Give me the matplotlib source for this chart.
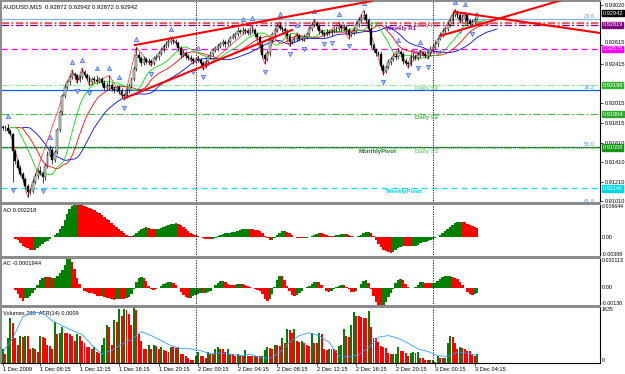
import numpy as np
import pandas as pd
import matplotlib
matplotlib.use("Agg")
import matplotlib.pyplot as plt
import matplotlib.transforms as mtrans

plt.rcParams['font.family'] = ['Liberation Sans', 'DejaVu Sans']

# ---- data (AUDUSD M15, prices in pips of 0.0001) ----
first_open = 9177
close_pips = [
    9176, 9176, 9173, 9170, 9152, 9142, 9135, 9129, 9124, 9116,
    9110, 9111, 9120, 9127, 9132, 9130, 9126, 9137, 9148, 9153,
    9143, 9151, 9174, 9192, 9209, 9218, 9223, 9228, 9232, 9230,
    9225, 9228, 9234, 9231, 9227, 9223, 9226, 9225, 9224, 9226,
    9222, 9217, 9219, 9220, 9216, 9215, 9218, 9214, 9210, 9209,
    9215, 9219, 9226, 9237, 9251, 9248, 9243, 9247, 9244, 9245,
    9243, 9248, 9249, 9253, 9256, 9260, 9262, 9264, 9266, 9264,
    9263, 9258, 9251, 9253, 9250, 9248, 9247, 9245, 9247, 9246,
    9243, 9240, 9244, 9249, 9252, 9256, 9258, 9260, 9262, 9264,
    9262, 9264, 9269, 9271, 9273, 9276, 9275, 9277, 9276, 9274,
    9276, 9277, 9273, 9270, 9261, 9251, 9247, 9253, 9266, 9273,
    9277, 9281, 9279, 9278, 9276, 9271, 9264, 9266, 9268, 9271,
    9268, 9267, 9270, 9273, 9278, 9282, 9284, 9281, 9276, 9274,
    9273, 9275, 9274, 9276, 9277, 9278, 9281, 9279, 9280, 9277,
    9272, 9274, 9276, 9283, 9287, 9289, 9292, 9287, 9278, 9261,
    9256, 9253, 9252, 9240, 9235, 9239, 9244, 9247, 9250, 9249,
    9254, 9252, 9245, 9243, 9242, 9249, 9250, 9248, 9251, 9253,
    9252, 9250, 9253, 9257, 9259, 9262, 9268, 9272, 9276, 9278,
    9282, 9286, 9292, 9295, 9292, 9287, 9289, 9292, 9286, 9283,
    9285, 9287, 9294]
hi_ext = [
    2, 3, 4, 2, 1, 2, 2, 3, 2, 2,
    2, 3, 4, 3, 3, 5, 2, 3, 4, 6,
    3, 2, 2, 3, 2, 3, 2, 3, 4, 2,
    2, 3, 4, 2, 2, 3, 2, 3, 5, 2,
    2, 3, 4, 10, 2, 3, 2, 2, 3, 2,
    2, 3, 2, 3, 8, 3, 2, 3, 2, 3,
    2, 2, 3, 2, 3, 2, 3, 3, 4, 2,
    3, 2, 2, 3, 2, 2, 3, 2, 2, 3,
    2, 2, 3, 2, 3, 2, 2, 3, 2, 3,
    2, 3, 2, 3, 2, 4, 2, 3, 2, 2,
    3, 4, 2, 2, 2, 3, 2, 3, 3, 2,
    3, 3, 4, 2, 2, 2, 3, 2, 2, 3,
    2, 2, 3, 2, 3, 3, 4, 2, 2, 2,
    2, 3, 2, 2, 3, 3, 4, 2, 3, 2,
    2, 2, 3, 3, 3, 4, 5, 2, 2, 3,
    2, 2, 2, 3, 2, 2, 3, 2, 3, 3,
    4, 2, 2, 3, 2, 3, 4, 2, 3, 3,
    2, 3, 2, 3, 3, 4, 2, 3, 3, 2,
    3, 3, 4, 3, 2, 3, 4, 3, 2, 2,
    3, 3, 0]
lo_ext = [
    2, 3, 2, 2, 32, 3, 2, 2, 3, 3,
    5, 3, 2, 2, 3, 2, 7, 3, 2, 2,
    4, 2, 2, 2, 3, 2, 2, 3, 2, 3,
    3, 2, 2, 3, 2, 3, 2, 2, 3, 2,
    3, 2, 2, 3, 2, 3, 2, 3, 3, 4,
    2, 3, 2, 2, 2, 3, 3, 2, 2, 3,
    3, 2, 2, 3, 2, 2, 2, 3, 2, 2,
    2, 3, 3, 2, 3, 2, 2, 3, 2, 2,
    3, 4, 2, 3, 2, 2, 2, 3, 2, 2,
    3, 2, 2, 2, 3, 2, 2, 2, 3, 2,
    2, 2, 3, 2, 3, 3, 5, 2, 3, 2,
    2, 2, 2, 3, 2, 3, 4, 2, 2, 3,
    3, 2, 2, 3, 2, 2, 2, 3, 3, 2,
    3, 2, 2, 3, 2, 2, 2, 3, 2, 3,
    4, 2, 2, 2, 3, 2, 2, 3, 3, 3,
    2, 3, 2, 3, 4, 2, 2, 3, 2, 3,
    2, 3, 3, 2, 4, 2, 3, 2, 2, 3,
    2, 2, 3, 2, 3, 2, 3, 2, 2, 3,
    2, 2, 3, 2, 3, 3, 2, 4, 3, 2,
    2, 2, 0]
volumes = [
    420, 260, 735, 1310, 1180, 735, 525, 790, 760, 800,
    790, 420, 440, 420, 315, 790, 760, 735, 525, 500,
    420, 1200, 840, 870, 1050, 890, 890, 860, 790, 630,
    840, 800, 630, 580, 470, 460, 420, 470, 315, 300,
    525, 735, 1100, 1050, 525, 1260, 1200, 1570, 1360, 1570,
    1540, 1420, 1100, 1600, 1560, 840, 630, 420, 400, 525,
    420, 525, 500, 420, 470, 370, 360, 315, 470, 470,
    450, 470, 260, 250, 210, 150, 100, 95, 210, 315,
    210, 200, 150, 315, 260, 250, 420, 470, 420, 400,
    315, 420, 260, 250, 210, 260, 210, 200, 370, 210,
    210, 205, 210, 210, 200, 210, 370, 470, 450, 420,
    525, 525, 510, 735, 580, 1000, 960, 890, 1000, 630,
    610, 630, 580, 525, 510, 890, 580, 570, 890, 850,
    400, 390, 400, 420, 400, 390, 510, 520, 1000, 780,
    760, 1100, 1480, 1370, 1360, 1350, 1320, 1300, 1530, 1050,
    730, 720, 620, 510, 460, 450, 300, 250, 255, 260,
    460, 350, 340, 300, 190, 300, 310, 300, 310, 140,
    135, 85, 80, 85, 90, 30, 190, 140, 135, 140,
    570, 780, 770, 570, 400, 460, 450, 400, 350, 340,
    250, 190, 260]
# ATR(14), read once per hour (every 4th bar)
atr_hourly = [
    0.00100, 0.00151, 0.00228, 0.00244, 0.00244, 0.00213, 0.00196, 0.00179,
    0.00164, 0.00125, 0.00093, 0.00106, 0.00128, 0.00145, 0.00174, 0.00160,
    0.00142, 0.00123, 0.00113, 0.00111, 0.00105, 0.00093, 0.00096, 0.00092,
    0.00087, 0.00092, 0.00080, 0.00077, 0.00097, 0.00136, 0.00160, 0.00170,
    0.00159, 0.00136, 0.00086, 0.00082, 0.00090, 0.00115, 0.00154, 0.00160,
    0.00150, 0.00132, 0.00111, 0.00102, 0.00086, 0.00084, 0.00100, 0.00096,
    0.00087]

# horizontal levels: price, colour, style
level_prices = [0.92881, 0.92853, 0.92836, 0.92819, 0.92575, 0.92199, 0.92151,
                0.91904, 0.91560, 0.91558, 0.91140]
level_colors = ['#7ab8f0', '#ff7070', '#d06060', '#8b008b', '#ff00ff', '#90ee90',
                '#0066ff', '#4cc04c', '#004d00', '#7ee07e', '#00e5ee']
level_styles = ['-', 'dashdot', 'dashdot', 'dashdot', 'dashed', 'dashdot', '-',
                'dashdot', '-', 'dashdot', 'dashed']
fib_prices = [0.92881, 0.92151, 0.91561, 0.90971]
fib_names = ['23.6', '38.2', '50.0', '61.8']

label_names = ['Weekly R1', 'Daily R1', 'Daily Pivot', 'Daily S1', 'Daily S2',
               'MonthlyPivot', 'Daily S3', 'WeeklyPivot']
label_prices = [0.92819, 0.92853, 0.92575, 0.92199, 0.91904, 0.91560, 0.91558, 0.91140]
label_colors = ['#8b008b', '#e06666', '#c030c0', '#7ed07e', '#4cb84c', '#1e7a1e',
                '#7ed07e', '#00d8e8']
label_bars = [155, 167, 165, 167, 167, 144, 167, 155]

box_prices = [0.92942, 0.92819, 0.92575, 0.92199, 0.91904, 0.91558, 0.91140]
box_colors = ['#000000', '#800080', '#ff00ff', '#32b432', '#2ea82e', '#149614', '#00d8e8']

# trend lines: (bar, price) -> (bar, price)
trend_lines = [(49.4, 0.92069, 117.0, 0.92768),
               (53.4, 0.92613, 149.4, 0.93066),
               (183.0, 0.92953, 241.7, 0.92737),
               (176.9, 0.92706, 226.3, 0.93076)]

price_ticks = [0.93020, 0.92615, 0.92415, 0.92015,
               0.91815, 0.91610, 0.91410, 0.91210, 0.91010]

# ---- derived series ----
close = np.array(close_pips) / 10000.0
opn = np.r_[first_open / 10000.0, close[:-1]]
high = np.maximum(opn, close) + np.array(hi_ext) / 10000.0
low = np.minimum(opn, close) - np.array(lo_ext) / 10000.0
n = len(close)
idx = np.arange(n)
times = pd.date_range("2009-12-01 04:30", periods=n, freq="15min")

med = pd.Series((high + low) / 2)
def smma(s, p):
    return s.ewm(alpha=1.0 / p, adjust=False).mean()
jaw, teeth, lips = smma(med, 13), smma(med, 8), smma(med, 5)
ao = (med.rolling(5, min_periods=1).mean() - med.rolling(34, min_periods=1).mean()).values
ac = ao - pd.Series(ao).rolling(5, min_periods=1).mean().values

def up_down_colors(v):
    return ['#008000' if i == 0 or v[i] > v[i - 1] else '#ff0000' for i in range(len(v))]

# ---- layout in pixels ----
W, H = 625, 374
fig = plt.figure(figsize=(W / 100, H / 100), dpi=100)
def panel(top, bottom):
    return fig.add_axes([1 / W, 1 - bottom / H, 599 / W, (bottom - top) / H])

ax = panel(1, 203)
ax_ao = panel(204, 257)
ax_ac = panel(258, 306)
ax_v = panel(307, 363)
fs = 4.1
xlim = ((1 - 3) / 2.47, (600 - 3) / 2.47)

def price_at(y):
    return 0.92819 - (y - 25) * 0.0001028

for a in (ax, ax_ao, ax_ac, ax_v):
    a.set_xlim(*xlim)
    for s in ('left', 'top', 'bottom'):
        a.spines[s].set_color('#8a8a8a')
        a.spines[s].set_linewidth(1.4)
    a.spines['right'].set_color('black')
    a.spines['right'].set_linewidth(0.8)
    a.yaxis.tick_right()
    a.tick_params(axis='y', labelsize=fs, length=2, width=0.5, pad=1.5)
    a.tick_params(axis='x', bottom=False, labelbottom=False)
    for d in (78, 174):
        a.axvline(d, color='black', lw=0.6, ls=(0, (1.5, 1.5)))

# ---- main price panel ----
ax.set_ylim(price_at(203), price_at(1))
ax.set_yticks(price_ticks)
ax.set_yticklabels([f"{p:.5f}" for p in price_ticks])
for t, p in zip(ax.get_yticklabels(), price_ticks):
    if p == 0.92615:
        t.set_va('bottom')

for p, c, st in zip(level_prices, level_colors, level_styles):
    ls = (0, (6, 2, 1.5, 2)) if st == 'dashdot' else ((0, (5, 3)) if st == 'dashed' else '-')
    ax.axhline(p, color=c, lw=0.9, ls=ls, zorder=1)
for p, name in zip(fib_prices, fib_names):
    ax.text(239.5, p + 0.00004, name, color='#5a9ae0', fontsize=fs, ha='right', va='bottom')
ax.axhline(fib_prices[2], color='#9cc8f0', lw=0.6, ls=':', zorder=1)

for name, p, c, b in zip(label_names, label_prices, label_colors, label_bars):
    ax.text(b, p - 0.00012, name, color=c, fontsize=fs + 0.2, fontweight='bold',
            ha='left', va='top', zorder=2)

ax.plot(idx + 8, jaw, color='#0000ff', lw=0.6, zorder=4)
ax.plot(idx + 5, teeth, color='#ff0000', lw=0.6, zorder=4)
ax.plot(idx + 3, lips, color='#00e000', lw=0.6, zorder=4)

ax.vlines(idx, low, high, color='black', lw=0.5, zorder=5)
bull = close >= opn
body_h = np.maximum(np.abs(close - opn), 0.00003)
ax.bar(idx, body_h, bottom=np.minimum(opn, close), width=0.75,
       color=np.where(bull, '#c8d8c8', '#000000'), edgecolor='black', lw=0.3, zorder=6)

for x0, y0, x1, y1 in trend_lines:
    ax.plot([x0, x1], [y0, y1], color='#ff0000', lw=1.5, zorder=8)

up = [i for i in range(2, n - 2) if high[i] >= high[i - 1] and high[i] >= high[i - 2]
      and high[i] > high[i + 1] and high[i] > high[i + 2]]
dn = [i for i in range(2, n - 2) if low[i] <= low[i - 1] and low[i] <= low[i - 2]
      and low[i] < low[i + 1] and low[i] < low[i + 2]]
pts = sorted([(i, high[i], 1) for i in up] + [(i, low[i], -1) for i in dn])
zz = []
for pt in pts:
    if zz and zz[-1][2] == pt[2]:
        if (pt[2] == 1 and pt[1] > zz[-1][1]) or (pt[2] == -1 and pt[1] < zz[-1][1]):
            zz[-1] = pt
    else:
        zz.append(pt)
ax.plot([q[0] for q in zz], [q[1] for q in zz], color='#ff2020', lw=0.5, zorder=4)
ax.scatter(up, high[up] + 0.0008, marker='^', s=9, c='#b8ccff', edgecolors='#3a5fff',
           linewidths=0.5, zorder=7)
ax.scatter(dn, low[dn] - 0.0008, marker='v', s=9, c='#b8ccff', edgecolors='#3a5fff',
           linewidths=0.5, zorder=7)

blend = mtrans.blended_transform_factory(ax.transAxes, ax.transData)
for p, c in zip(box_prices, box_colors):
    ax.text(1.004, p, f"{p:.5f}", transform=blend, fontsize=fs, color='white',
            ha='left', va='center', clip_on=False, zorder=10,
            bbox=dict(boxstyle='square,pad=0.12', fc=c, ec=c))
ax.text(0.004, 0.985, "AUDUSD,M15  0.92872 0.92942 0.92872 0.92942", transform=ax.transAxes,
        fontsize=fs + 0.2, ha='left', va='top')

# ---- AO ----
ax_ao.bar(idx, ao, width=1.0, color=up_down_colors(ao), lw=0)
ax_ao.set_ylim(-0.00388, 0.006644)
ax_ao.set_yticks([])
ax_ao.text(0.004, 0.93, "AO 0.002218", transform=ax_ao.transAxes, fontsize=fs, va='top')
# ---- AC ----
ax_ac.bar(idx, ac, width=1.0, color=up_down_colors(ac), lw=0)
ax_ac.set_ylim(-0.0013, 0.002113)
ax_ac.set_yticks([])
ax_ac.text(0.004, 0.93, "AC -0.0001944", transform=ax_ac.transAxes, fontsize=fs, va='top')
# ---- Volumes + ATR ----
ax_v.bar(idx, volumes, width=0.8, color=up_down_colors(volumes), lw=0)
ax_v.set_ylim(0, 1635)
ax_v.set_yticks([])
ax_atr = ax_v.twinx()
ax_atr.plot(idx[::4], atr_hourly, color='#3399ff', lw=0.6)
ax_atr.set_ylim(0.0006, 0.00264)
ax_atr.set_xlim(*xlim)
ax_atr.axis('off')
ax_v.text(0.004, 0.93, "Volumes 260  ATR(14) 0.0009", transform=ax_v.transAxes, fontsize=fs, va='top')

for a, labels in ((ax_ao, ["0.006644", "0.00", "-0.00388"]),
                  (ax_ac, ["0.002113", "0.00", "-0.00130"]),
                  (ax_v, ["1635", "", "0"])):
    lo_, hi_ = a.get_ylim()
    a.text(1.003, 1.0, labels[0], transform=a.transAxes, fontsize=3.8, va='top', ha='left')
    if labels[1]:
        a.text(1.003, (0 - lo_) / (hi_ - lo_), labels[1], transform=a.transAxes,
               fontsize=fs, va='center', ha='left')
    a.text(1.003, 0.0, labels[2], transform=a.transAxes, fontsize=3.8, va='bottom', ha='left')

tick_bars = [0] + list(range(15, n, 16))
tick_labels = ["1 Dec 2009"] + [f"{times[b].day} {times[b]:%b %H:%M}" for b in tick_bars[1:]]
ax_v.spines['bottom'].set_color('black')
ax_v.spines['bottom'].set_linewidth(0.8)
ax_v.tick_params(axis='x', bottom=True, labelbottom=True, labelsize=fs, length=2,
                 width=0.5, pad=1)
ax_v.set_xticks(tick_bars)
ax_v.set_xticklabels(tick_labels, ha='left')

fig.savefig("out.png", dpi=100, facecolor='white')
